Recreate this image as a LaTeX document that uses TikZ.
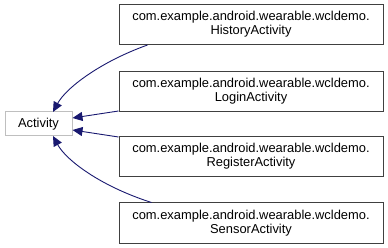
\documentclass[tikz,border=0pt]{standalone}
\usepackage{fontspec}
\setmainfont{Liberation Sans}
\usetikzlibrary{arrows.meta}
\definecolor{edgeblue}{HTML}{191970}
\definecolor{boxgray}{HTML}{404040}
\definecolor{basegray}{HTML}{BFBFBF}
\begin{document}
\begin{tikzpicture}[x=1pt,y=-1pt,
  cls/.style={draw=boxgray, line width=1pt, fill=white, minimum width=264pt, minimum height=40pt,
    inner sep=0pt, align=center, font=\fontsize{12.9}{14}\selectfont},
  base/.style={draw=basegray, line width=1pt, fill=white, minimum width=67pt, minimum height=24pt,
    inner sep=0pt, font=\fontsize{12.9}{14}\selectfont},
  inh/.style={draw=edgeblue, line width=0.9pt, -{Triangle[length=10pt,width=9pt]}}]
\useasboundingbox (0,0) rectangle (388,248);
\node[base] (act) at (38.5,124) {Activity};
\node[cls] (hist) at (251,24.5) {com.example.android.wearable.wcldemo.\\HistoryActivity};
\node[cls] (login) at (251,91.5) {com.example.android.wearable.wcldemo.\\LoginActivity};
\node[cls] (reg) at (251,156.5) {com.example.android.wearable.wcldemo.\\RegisterActivity};
\node[cls] (sens) at (251,223) {com.example.android.wearable.wcldemo.\\SensorActivity};
\coordinate (a1) at (53,112);
\coordinate (a4) at (53,136);
\draw[inh] (hist.south west) ++(29,0) .. controls (100,62) and (66,88) .. (a1);
\draw[inh] (login.south west) ++(0,-1) -- (act.east |- 0,118);
\draw[inh] (reg.north west) ++(0,1) -- (act.east |- 0,130);
\draw[inh] (sens.north west) ++(33,0) .. controls (100,186) and (66,160) .. (a4);
\end{tikzpicture}
\end{document}
